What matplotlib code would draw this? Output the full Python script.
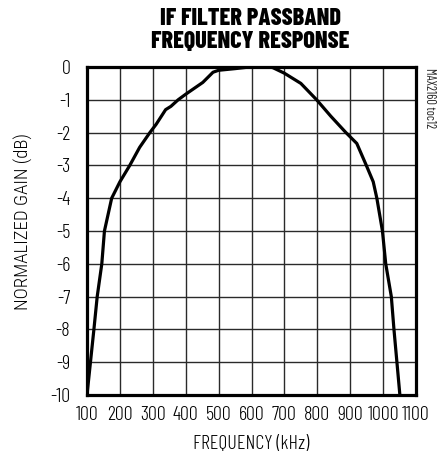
import matplotlib
matplotlib.use("Agg")
import matplotlib.pyplot as plt

FONT = ["Barlow Condensed", "Roboto Condensed", "DejaVu Sans"]
LABEL_FONT = ["Roboto Condensed", "Barlow Condensed", "DejaVu Sans"]
plt.rcParams["font.family"] = FONT

freq_khz = [100, 121, 131, 145, 153, 175, 200, 230, 260, 291, 310, 339, 355, 377, 400,
            452, 483, 500, 550, 594, 655, 665, 700, 750, 798, 841, 887, 920, 949,
            970, 981, 998, 1008, 1025, 1033, 1042, 1051]
gain_db = [-10, -8, -7, -6, -5, -4, -3.5, -3, -2.45, -2, -1.75, -1.3, -1.2, -1, -0.83,
           -0.47, -0.16, -0.1, -0.05, 0, 0, -0.02, -0.19, -0.5, -1, -1.5, -2, -2.33, -3,
           -3.5, -4, -5, -6, -7, -8, -9, -10]
x_ticks = [100, 200, 300, 400, 500, 600, 700, 800, 900, 1000, 1100]
y_ticks = [0, -1, -2, -3, -4, -5, -6, -7, -8, -9, -10]

fig = plt.figure(figsize=(4.44, 4.57), dpi=100)
ax = fig.add_axes([87/444, 1-395/457, (416-87)/444, (395-67)/457])
ax.plot(freq_khz, gain_db, color="black", lw=2.3, solid_joinstyle="round", zorder=3)
ax.set_xlim(100, 1100)
ax.set_ylim(-10, 0)
ax.set_xticks(x_ticks)
ax.set_yticks(y_ticks)
ax.set_xticklabels([str(t) for t in x_ticks], fontsize=14.5, fontweight=300)
ax.set_yticklabels([str(t) for t in y_ticks], fontsize=14.5, fontweight=300)
ax.tick_params(axis="x", length=0, pad=8)
ax.tick_params(axis="y", length=0, pad=12)
ax.grid(True, color="#2a2a2a", lw=1.0)
for s in ax.spines.values():
    s.set_linewidth(2.3)
ax.set_xlabel("FREQUENCY (kHz)", fontsize=14.5, fontweight=300)
ax.set_ylabel("NORMALIZED GAIN (dB)", fontsize=13.5, family=LABEL_FONT, fontweight=300)
ax.xaxis.set_label_coords(251/444, 1-435/457, transform=fig.transFigure)
ax.yaxis.set_label_coords(33/444, 1-222/457, transform=fig.transFigure)
fig.text(250/444, 1-30.5/457, "IF FILTER PASSBAND\nFREQUENCY RESPONSE", ha="center", va="center",
         fontweight=800, fontsize=17.5, linespacing=1.05)
fig.text(429/444, 1-98/457, "MAX2160 toc12", rotation=270, ha="center", va="center",
         fontsize=9, color="#222222")
fig.savefig("out.png", dpi=100)
